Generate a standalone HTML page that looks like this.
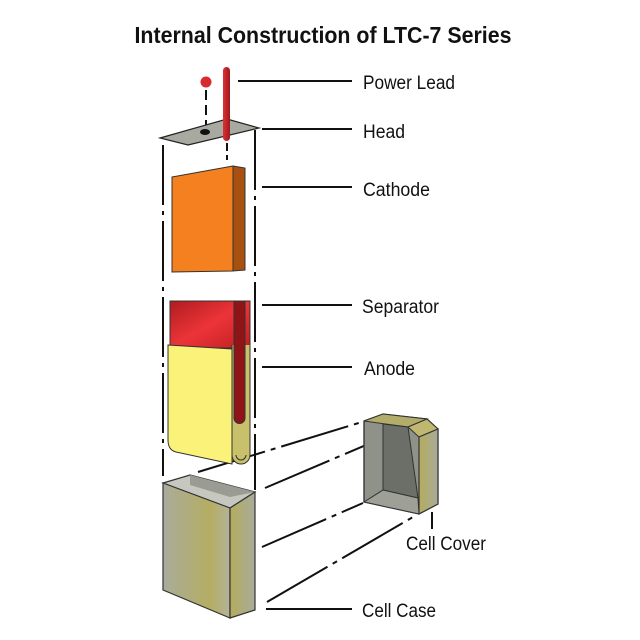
<!DOCTYPE html>
<html><head><meta charset="utf-8"><style>
html,body{margin:0;padding:0;background:#fff;}
svg{display:block}
text{font-family:"Liberation Sans",sans-serif;fill:#111}
</style></head><body>
<svg width="640" height="640" viewBox="0 0 640 640" xmlns="http://www.w3.org/2000/svg">
<defs>
<linearGradient id="olive" x1="0" x2="1" y1="0" y2="0"><stop offset="0" stop-color="#a9ac9c"/><stop offset="0.7" stop-color="#b5ad62"/><stop offset="1" stop-color="#b4b39a"/></linearGradient>
<linearGradient id="olive2" x1="0" x2="1"><stop offset="0" stop-color="#b3ac5e"/><stop offset="1" stop-color="#a9ab9a"/></linearGradient>
<linearGradient id="red" x1="0" x2="1" y1="0" y2="1"><stop offset="0" stop-color="#b01c20"/><stop offset="0.5" stop-color="#ec3438"/><stop offset="1" stop-color="#c01e22"/></linearGradient>
<linearGradient id="rod" x1="0" x2="1"><stop offset="0" stop-color="#e03036"/><stop offset="1" stop-color="#9c1a1e"/></linearGradient>
</defs>
<text x="323" y="43" text-anchor="middle" font-size="23" font-weight="bold" textLength="377" lengthAdjust="spacingAndGlyphs">Internal Construction of LTC-7 Series</text>

<g stroke="#111" stroke-width="2" fill="none" stroke-dasharray="60,6,4,6">
<line x1="163" y1="145" x2="163" y2="476"/>
<line x1="255" y1="130" x2="255" y2="490"/>
</g>
<g stroke="#111" stroke-width="2" fill="none" stroke-dasharray="70,6,5,6">
<line x1="198" y1="472" x2="362" y2="422"/>
<line x1="265" y1="488" x2="427" y2="419"/>
<line x1="262" y1="547" x2="363" y2="503"/>
<line x1="267" y1="602" x2="413" y2="517"/>
</g>
<g stroke="#111" stroke-width="2">
<line x1="238" y1="81" x2="352" y2="81"/>
<line x1="262" y1="129" x2="352" y2="129"/>
<line x1="262" y1="187" x2="352" y2="187"/>
<line x1="262" y1="305" x2="352" y2="305"/>
<line x1="262" y1="367" x2="352" y2="367"/>
<line x1="432" y1="512" x2="432" y2="529"/>
<line x1="266" y1="609" x2="352" y2="609"/>
</g>
<g font-size="19">
<text x="363" y="89" textLength="92" lengthAdjust="spacingAndGlyphs">Power Lead</text>
<text x="363" y="138" textLength="42" lengthAdjust="spacingAndGlyphs">Head</text>
<text x="363" y="196" textLength="67" lengthAdjust="spacingAndGlyphs">Cathode</text>
<text x="362" y="313" textLength="77" lengthAdjust="spacingAndGlyphs">Separator</text>
<text x="364" y="375" textLength="51" lengthAdjust="spacingAndGlyphs">Anode</text>
<text x="406" y="550" textLength="80" lengthAdjust="spacingAndGlyphs">Cell Cover</text>
<text x="362" y="617" textLength="74" lengthAdjust="spacingAndGlyphs">Cell Case</text>
</g>

<line x1="206" y1="90" x2="206" y2="128" stroke="#111" stroke-width="2" stroke-dasharray="10,5"/>
<circle cx="206" cy="82" r="5.5" fill="#d92a2f"/>
<polygon points="160,138 227,119 259,128 188,145" fill="#a8aaa2" stroke="#222" stroke-width="1.2"/>
<ellipse cx="205" cy="132" rx="5" ry="3" fill="#111"/>
<rect x="223" y="67" width="7" height="74" rx="3.5" fill="url(#rod)"/>
<line x1="227" y1="143" x2="227" y2="160" stroke="#111" stroke-width="2" stroke-dasharray="8,4"/>

<polygon points="172,177 233,166 233,271 172,272" fill="#f58020" stroke="#333" stroke-width="1"/>
<polygon points="233,166 245,168 245,270 233,271" fill="#a85010" stroke="#333" stroke-width="1"/>

<!-- separator -->
<rect x="170" y="301" width="80" height="47" fill="url(#red)" stroke="#333" stroke-width="1"/>
<!-- anode -->
<path d="M168,345 L232,349 L232,464 L176,452 Q168,450 168,440 Z" fill="#fbf27a" stroke="#333" stroke-width="1"/>
<path d="M232,345 L232,455 a9,9 0 0 0 18,0 V345" fill="#c8c06a" stroke="#333" stroke-width="1"/>
<path d="M236,455 a5,5 0 0 0 10,0" fill="none" stroke="#333" stroke-width="1"/>
<!-- separator tube over pocket -->
<path d="M234,301 V418 a5.5,5.5 0 0 0 11,0 V301 Z" fill="#8e1418" stroke="#333" stroke-width="1"/>
<line x1="250" y1="301" x2="250" y2="345" stroke="#333" stroke-width="1"/>

<!-- cell case -->
<polygon points="163,483 190,475 255,492 230,508" fill="#c6c8c0" stroke="#333" stroke-width="1.2"/>
<polygon points="190,475 190,485 230,497 255,492" fill="#9a9c94"/>
<polygon points="163,483 230,508 230,618 163,590" fill="url(#olive)" stroke="#333" stroke-width="1.2"/>
<polygon points="230,508 255,492 255,610 230,618" fill="url(#olive2)" stroke="#333" stroke-width="1.2"/>

<!-- cell cover -->
<polygon points="364,421 383,414 427,419 438,429 438,504 419,514 364,502" fill="#8f9289" stroke="#333" stroke-width="1.2"/>
<polygon points="364,421 383,414 427,419 408,427" fill="#b2ad6a" stroke="#333" stroke-width="1"/>
<polygon points="408,427 427,419 438,429 419,437" fill="#c0b870" stroke="#333" stroke-width="1"/>
<polygon points="419,437 438,429 438,504 419,514" fill="url(#olive2)" stroke="#333" stroke-width="1.2"/>
<polygon points="383,424 408,427 418,498 383,490" fill="#6c6f68" stroke="#333" stroke-width="1"/>
<polygon points="383,490 418,498 419,514 364,502" fill="#9ea097" stroke="#333" stroke-width="1"/>
<line x1="364" y1="421" x2="364" y2="502" stroke="#333" stroke-width="1.2"/>
</svg>
</body></html>
